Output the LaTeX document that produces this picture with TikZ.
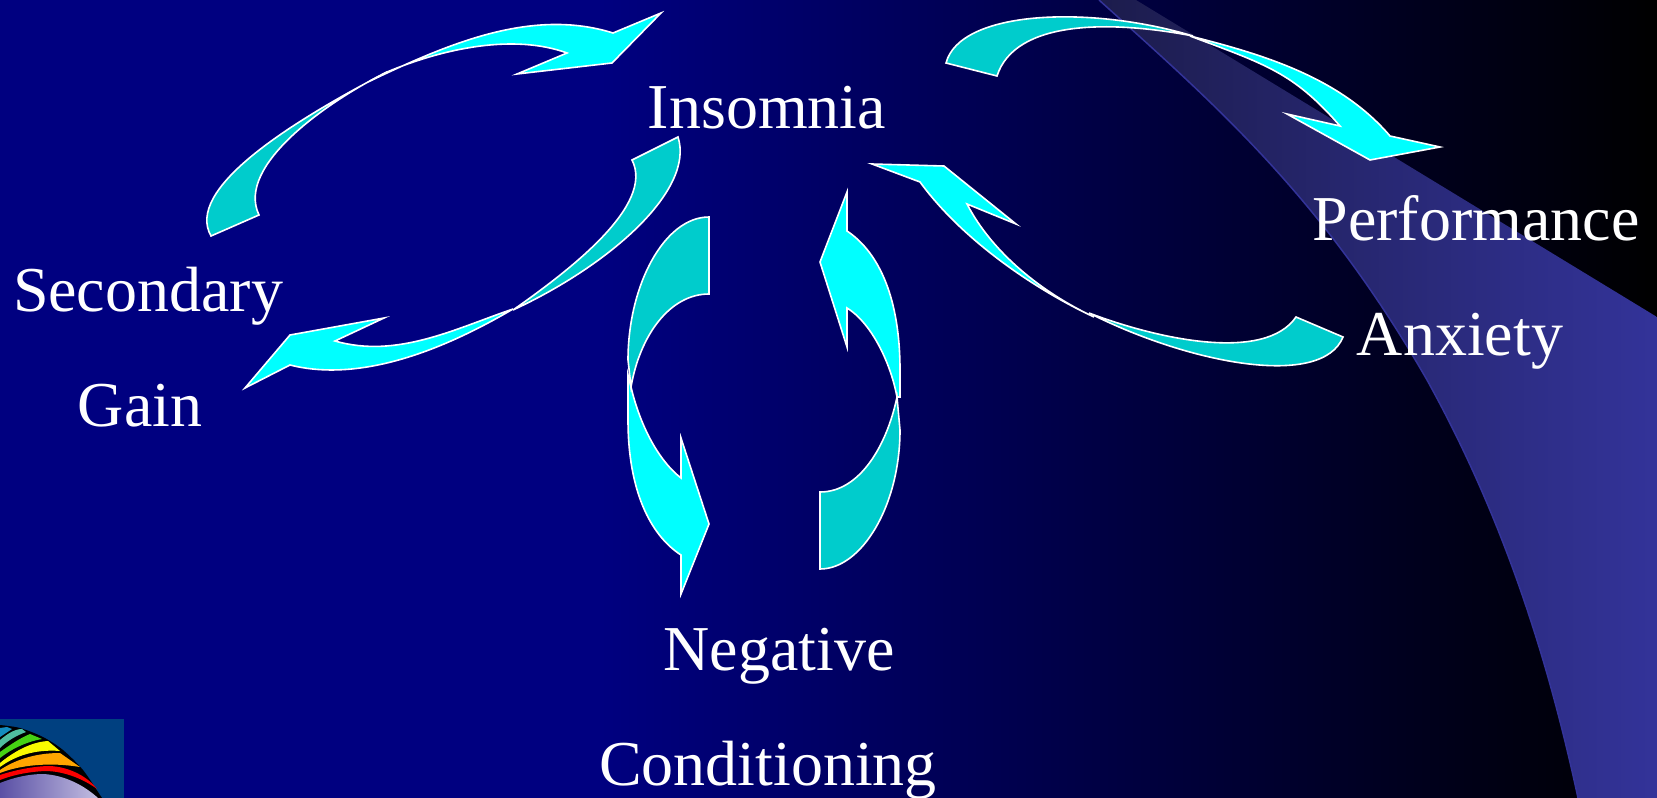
\documentclass[tikz,border=0pt]{standalone}
\usepackage{fontspec}
\usetikzlibrary{calc}
\setmainfont{Liberation Serif}
\definecolor{navybg}{RGB}{0,0,128}
\definecolor{beamA}{RGB}{28,28,76}
\definecolor{beamB}{RGB}{51,51,153}
\definecolor{headc}{RGB}{0,255,255}
\definecolor{tailc}{RGB}{0,204,204}
\definecolor{logobg}{RGB}{0,64,128}
\definecolor{logoblue}{RGB}{20,140,190}
\definecolor{logoteal}{RGB}{80,190,160}
\definecolor{logogreen}{RGB}{70,210,20}
\definecolor{logoyellow}{RGB}{250,250,0}
\definecolor{logoorange}{RGB}{255,165,0}
\definecolor{logored}{RGB}{250,0,0}
\definecolor{domeA}{RGB}{90,80,165}
\definecolor{domeB}{RGB}{195,190,225}
\pgfdeclarehorizontalshading{bgshade}{100bp}{color(0bp)=(navybg); color(25bp)=(navybg); color(43.1bp)=(navybg); color(75bp)=(black); color(100bp)=(black)}
\pgfdeclarehorizontalshading{beamshade}{100bp}{color(0bp)=(beamA); color(25bp)=(beamA); color(75bp)=(beamB); color(100bp)=(beamB)}
\pgfdeclarehorizontalshading{domeshade}{100bp}{color(0bp)=(domeA); color(25bp)=(domeA); color(75bp)=(domeB); color(100bp)=(domeB)}
\def\fc(#1)(#2)(#3)(#4){.. controls ($3*(#2)+0.33333*(#4)-0.83333*(#1)-1.5*(#3)$) and ($0.33333*(#1)+3*(#3)-1.5*(#2)-0.83333*(#4)$) .. (#4)}
\tikzset{
  headpart/.style={fill=headc,draw=white,line width=1.6pt,line join=miter},
  tailpart/.style={fill=tailc,draw=white,line width=1.6pt,line join=miter},
  label/.style={text=white,font=\fontsize{64.2}{64.2}\selectfont,anchor=base,inner sep=0pt}
}
\begin{document}
\begin{tikzpicture}[x=1bp,y=-1bp]
\useasboundingbox (0,0) rectangle (1657,798);
\shade[shading=bgshade] (0,0) rectangle (1657,798);
% beam
\shade[shading=beamshade] (1099,0) \fc(1099,0)(1211,103)(1320,222)(1427,380) \fc(1427,380)(1494,520)(1543,660)(1578,798) -- (1657,798) -- (1657,317) -- (1136,0) -- cycle;
\draw[beamB,line width=1.5pt] (1099,0) \fc(1099,0)(1211,103)(1320,222)(1427,380) \fc(1427,380)(1494,520)(1543,660)(1578,798);
% logo
\begin{scope}
\clip (0,719) rectangle (124,798);
\fill[logobg] (0,719) rectangle (124,798);
\fill[black] plot[smooth] coordinates {(0,725) (20,728) (43,737) (63,750) (83,770) (100,795) (102,798)} -- (0,798) -- cycle;
\fill[logoblue] (0,728) -- (7,727) -- (12,729) -- (0,737) -- cycle;
\fill[logoteal] (0,740) .. controls (6,735) and (14,729) .. (22,729) -- (26,732) .. controls (15,736) and (6,742) .. (0,748) -- cycle;
\fill[logogreen] (0,752) .. controls (10,745) and (20,738) .. (30,734) -- (42,739) .. controls (25,742) and (10,750) .. (0,758) -- cycle;
\fill[logoyellow] (0,763) .. controls (12,753) and (30,742) .. (48,741) -- (60,751) .. controls (35,749) and (15,756) .. (0,767) -- cycle;
\fill[logoorange] (0,770) .. controls (15,760) and (35,753) .. (60,753) -- (80,767) .. controls (50,762) and (20,765) .. (0,773) -- cycle;
\fill[logored] (0,775) .. controls (15,770) and (35,766) .. (50,766) .. controls (70,767) and (88,777) .. (97,789) .. controls (85,780) and (65,771) .. (45,771) .. controls (25,772) and (10,776) .. (0,780) -- cycle;
\shade[shading=domeshade] (0,783) .. controls (15,777) and (30,774) .. (43,774) .. controls (65,775) and (85,786) .. (98,798) -- (0,798) -- cycle;
\end{scope}
% arrow: Negative Conditioning -> Insomnia
\path[headpart] (897,397) .. controls (890,360) and (870,322) .. (847,308) -- (847,347) -- (820,262) -- (847,192) -- (847,231) .. controls (880,253) and (900,300) .. (900,370) -- (900,397) -- cycle;
\path[tailpart] (820,569) .. controls (862,569) and (900,505) .. (900,430) -- (897,397) .. controls (887,445) and (860,492) .. (820,492) -- cycle;
% arrow: Insomnia -> Negative Conditioning
\path[headpart] (631,387) .. controls (640,425) and (658,460) .. (681,478) -- (681,438) -- (709,524) -- (681,594) -- (681,555) .. controls (650,535) and (628,490) .. (628,420) -- (628,375) -- cycle;
\path[tailpart] (709,217) .. controls (664,217) and (628,286) .. (628,360) -- (631,387) .. controls (640,335) and (670,294) .. (709,294) -- cycle;
% arrow: Secondary Gain -> Insomnia
\path[headpart] (370,81) \fc(370,81)(448,47)(530,26)(613,33) -- (661,13) -- (612,63) -- (517,74) -- (567,53) \fc(567,53)(510,44)(448,52)(387,72) -- cycle;
\path[tailpart] (211,236) .. controls (185,190) and (285,125) .. (387,72) .. controls (330,100) and (235,165) .. (259,215) -- cycle;
% arrow: Insomnia -> Secondary Gain
\path[headpart] (513,309) \fc(513,309)(455,330)(396,345)(335,341) -- (384,318) -- (290,335) -- (245,388) -- (290,365) \fc(290,365)(367,367)(444,344)(513,309) -- cycle;
\path[tailpart] (678,137) .. controls (695,190) and (610,265) .. (513,310) .. controls (570,270) and (655,205) .. (632,160) -- cycle;
% arrow: Insomnia -> Performance
\path[headpart] (1190,36) \fc(1190,36)(1263,57)(1332,88)(1390,136) -- (1440,147) -- (1370,160) -- (1287,114) -- (1340,126) \fc(1340,126)(1297,85)(1252,60)(1190,36) -- cycle;
\path[tailpart] (946,63) .. controls (960,10) and (1090,5) .. (1193,36) .. controls (1110,20) and (1015,20) .. (997,76) -- cycle;
% arrow: Anxiety -> Insomnia
\path[headpart] (1094,317) \fc(1094,317)(1044,288)(1000,250)(967,204) -- (1016,224) -- (944,166) -- (872,164) -- (920,182) \fc(920,182)(970,236)(1031,282)(1094,317) -- cycle;
\path[tailpart] (1343,337) .. controls (1322,389) and (1190,364) .. (1089,313) .. controls (1160,340) and (1265,362) .. (1296,317) -- cycle;
% labels
\node[label] (insomnia) at (767,128) {Insomnia};
\node[label] (performance) at (1476,240) {Performance};
\node[label] (secondary) at (148,311) {Secondary};
\node[label] (gain) at (140,426) {Gain};
\node[label] (anxiety) at (1460,355) {Anxiety};
\node[label] (negative) at (779,670) {Negative};
\node[label] (conditioning) at (768,785) {Conditioning};
\end{tikzpicture}
\end{document}
